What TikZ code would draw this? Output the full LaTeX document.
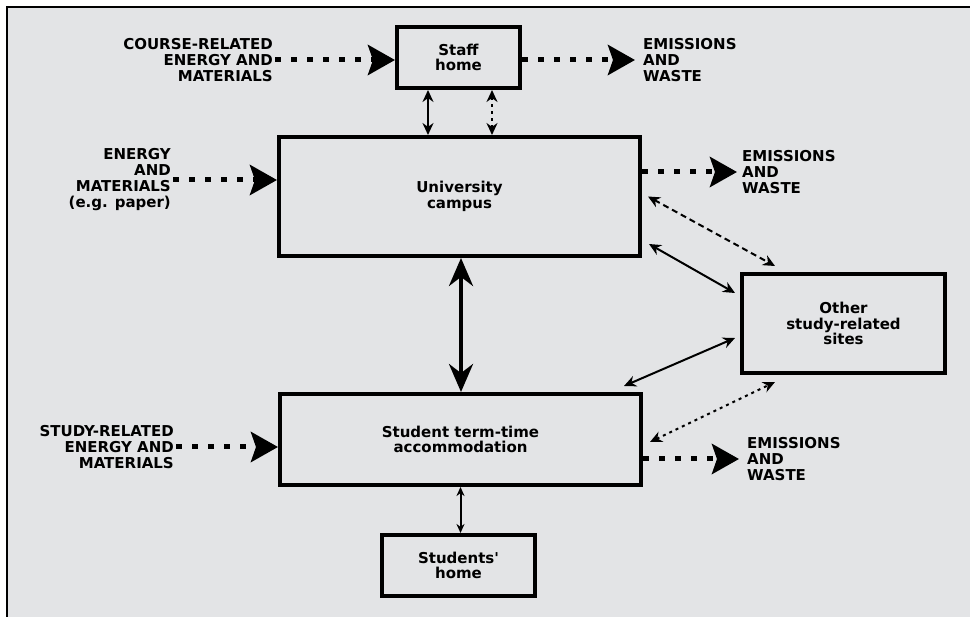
\documentclass[tikz,border=0pt]{standalone}
\usepackage{fontspec}
\setmainfont{DejaVu Sans}
\usetikzlibrary{arrows.meta}
\definecolor{panel}{HTML}{E3E4E6}
\begin{document}
\begin{tikzpicture}[x=1pt,y=-1pt,
    box/.style={draw,line width=4pt,inner sep=0pt,align=center,
        font=\fontsize{15}{15.5}\selectfont\bfseries},
    lbl/.style={inner sep=2pt,font=\fontsize{15}{16}\selectfont\bfseries},
    flow/.style={line width=5pt,dash pattern=on 6pt off 10pt,
        -{Stealth[length=27pt,width=30pt,inset=5pt]}},
    link/.style={line width=2pt,
        {Stealth[length=12pt,width=11pt]}-{Stealth[length=12pt,width=11pt]}}]
    \useasboundingbox (0,0) rectangle (970,617);
        \fill[white] (0,0) rectangle (970,617);
        \fill[panel] (7,7) rectangle (970,617);
        \draw[line width=2pt] (7,617) -- (7,7) -- (970,7);
    % boxes
    \node[box,minimum width=123pt,minimum height=61pt] (staff) at (458.5,57.5) {Staff\\home};
    \node[box,minimum width=361pt,minimum height=119pt] (campus) at (459.5,196.5) {University\\campus};
    \node[box,minimum width=203pt,minimum height=99pt] (other) at (843.5,323.5) {Other\\study-related\\sites};
    \node[box,minimum width=361pt,minimum height=91pt] (accom) at (460.5,439.5) {Student term-time\\accommodation};
    \node[box,minimum width=153pt,minimum height=61pt] (shome) at (458.5,565.5) {Students\textquotesingle\\home};
    % inputs and outputs
    \node[lbl,anchor=east,align=right] (in1) at (275,60) {COURSE-RELATED\\ENERGY AND\\MATERIALS};
    \node[lbl,anchor=east,align=right] (in2) at (173,180) {ENERGY\\AND\\MATERIALS\\(e.g. paper)};
    \node[lbl,anchor=east,align=right] (in3) at (176,447) {STUDY-RELATED\\ENERGY AND\\MATERIALS};
    \node[lbl,anchor=west,align=left] (out1) at (641,60) {EMISSIONS\\AND\\WASTE};
    \node[lbl,anchor=west,align=left] (out2) at (740,172) {EMISSIONS\\AND\\WASTE};
    \node[lbl,anchor=west,align=left] (out3) at (745,459) {EMISSIONS\\AND\\WASTE};
    \draw[flow] (in1.east) -- (in1.east -| staff.west);
    \draw[flow] (in2.east) -- (in2.east -| campus.west);
    \draw[flow] (in3.east) -- (in3.east -| accom.west);
    \draw[flow,shorten >=6pt] (out1.west -| staff.east) -- (out1.west);
    \draw[flow,shorten >=3pt] (out2.west -| campus.east) -- (out2.west);
    \draw[flow,shorten >=6pt] (out3.west -| accom.east) -- (out3.west);
    % links between sites
    \draw[link] ([xshift=-30.5pt]staff.south) -- ([xshift=-30.5pt]staff.south |- campus.north);
    \draw[link,dash pattern=on 3pt off 4pt] ([xshift=33.5pt]staff.south) -- ([xshift=33.5pt]staff.south |- campus.north);
    \draw[line width=4pt,{Stealth[length=28pt,width=24pt]}-{Stealth[length=28pt,width=24pt]}]
        ([xshift=1.5pt]campus.south) -- ([xshift=1.5pt]campus.south |- accom.north);
    \draw[link,dash pattern=on 6pt off 4pt] ([xshift=6pt]campus.east) -- ([xshift=35pt,yshift=6pt]other.north west);
    \draw[link] ([xshift=7pt,yshift=-47.5pt]campus.east) -- ([xshift=-5pt,yshift=30.5pt]other.west);
    \draw[link] ([xshift=-5pt,yshift=-14.5pt]other.west) -- ([xshift=-19pt,yshift=6pt]accom.north east);
    \draw[link,dash pattern=on 3pt off 4pt] ([xshift=7pt,yshift=-2.5pt]accom.east) -- ([xshift=35pt,yshift=-7pt]other.south west);
    \draw[line width=2pt,{Stealth[length=9pt,width=8pt]}-{Stealth[length=9pt,width=8pt]}]
        (accom.south) -- (accom.south |- shome.north);
\end{tikzpicture}
\end{document}
